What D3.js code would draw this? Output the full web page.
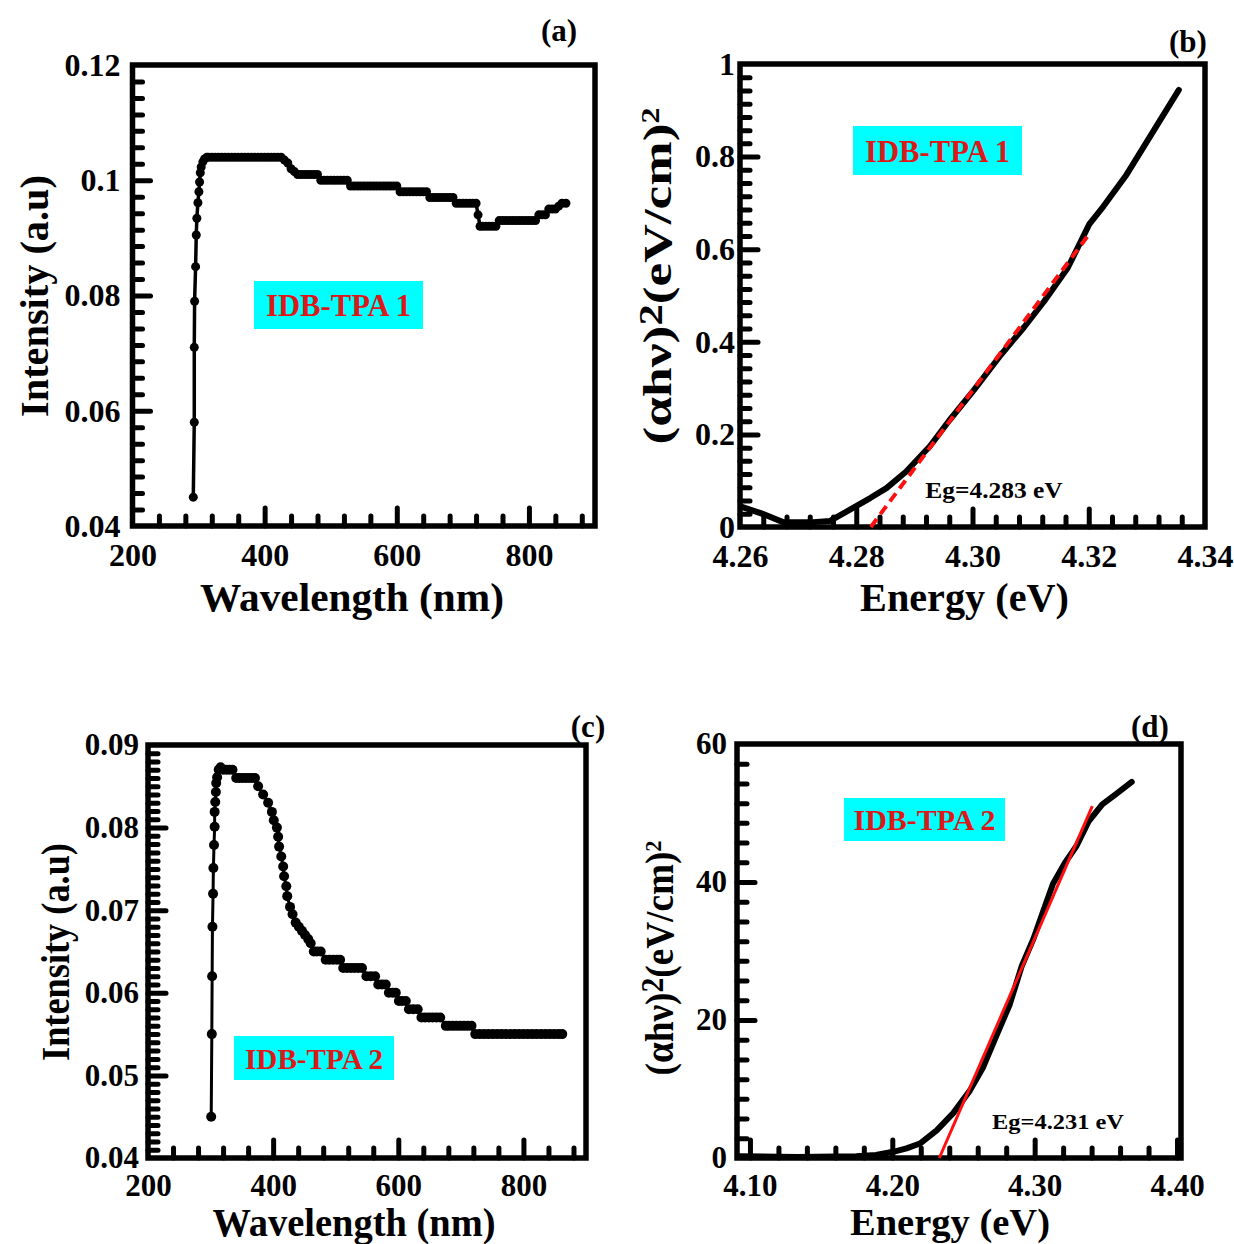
<!DOCTYPE html>
<html>
<head>
<meta charset="utf-8">
<script src="https://cdn.jsdelivr.net/npm/d3@7"></script>
<style>
  html, body { margin: 0; padding: 0; background: #fff; }
  text { font-family: "Liberation Serif", "Times New Roman", serif; font-weight: bold; }
</style>
</head>
<body>
<script>
// ---------------- DATA ----------------
// Panel (a): IDB-TPA 1 intensity vs wavelength
const wavelengthA = [292, 293.5, 293.5, 294, 295.5, 296.5, 297.4, 299, 300.5, 301.5, 302.6, 304, 306.5, 309, 312.5,
  315, 320, 325, 330, 335, 340, 345, 350, 355, 360, 365, 370, 375, 380, 385, 390, 395, 400, 405, 410, 415, 420, 425,
  430, 435, 440, 445, 450, 455, 460, 465, 470, 475, 480,
  485, 490, 495, 500, 505, 510, 515, 520, 525,
  530, 535, 540, 545, 550, 555, 560, 565, 570, 575, 580, 585, 590, 595, 600,
  605, 610, 615, 620, 625, 630, 635, 640, 645,
  650, 655, 660, 665, 670, 675, 680, 685,
  690, 695, 700, 705, 710, 715, 720,
  723, 726, 730, 735, 740, 745, 750,
  755, 760, 765, 770, 775, 780, 785, 790, 795, 800, 805, 810,
  815, 820, 825, 830, 835, 840, 845, 850, 856];
const intensityA = [0.045, 0.058, 0.071, 0.079, 0.085, 0.0905, 0.0934, 0.0961, 0.098, 0.0997, 0.1013, 0.1023, 0.1032, 0.1037, 0.104,
  0.104, 0.104, 0.104, 0.104, 0.104, 0.104, 0.104, 0.104, 0.104, 0.104, 0.104, 0.104, 0.104, 0.104, 0.104, 0.104, 0.104, 0.104, 0.104, 0.104, 0.104, 0.104, 0.104,
  0.1035, 0.103, 0.102, 0.1015, 0.101, 0.101, 0.101, 0.101, 0.101, 0.101, 0.101,
  0.100, 0.100, 0.100, 0.100, 0.100, 0.100, 0.100, 0.100, 0.100,
  0.099, 0.099, 0.099, 0.099, 0.099, 0.099, 0.099, 0.099, 0.099, 0.099, 0.099, 0.099, 0.099, 0.099, 0.099,
  0.098, 0.098, 0.098, 0.098, 0.098, 0.098, 0.098, 0.098, 0.098,
  0.097, 0.097, 0.097, 0.097, 0.097, 0.097, 0.097, 0.097,
  0.096, 0.096, 0.096, 0.096, 0.096, 0.096, 0.096,
  0.094, 0.092, 0.092, 0.092, 0.092, 0.092, 0.092,
  0.093, 0.093, 0.093, 0.093, 0.093, 0.093, 0.093, 0.093, 0.093, 0.093, 0.093, 0.093,
  0.094, 0.094, 0.094, 0.095, 0.095, 0.095, 0.0955, 0.096, 0.096];

// Panel (b): Tauc plot IDB-TPA 1
const energyB = [4.2602, 4.2640, 4.2675, 4.2720, 4.2755, 4.2790, 4.2824, 4.2852, 4.2886, 4.2927, 4.2960, 4.3002,
  4.3049, 4.3089, 4.3123, 4.3164, 4.3201, 4.3225, 4.3265, 4.3355];
const taucB = [0.044, 0.028, 0.010, 0.010, 0.013, 0.038, 0.0625, 0.084, 0.12, 0.175, 0.230, 0.295,
  0.372, 0.432, 0.487, 0.560, 0.654, 0.692, 0.761, 0.944];
const fitEnergyB = [4.2825, 4.3198];
const fitTaucB = [0, 0.628];

// Panel (c): IDB-TPA 2 intensity vs wavelength
const wavelengthC = [301, 302, 302.5, 303, 304, 304.5, 305.5, 306.5, 306.5, 307.5, 308.5, 309, 310.5, 313, 316,
  320, 325, 330, 335,
  341, 346, 351, 356, 361, 366, 371,
  376, 384, 392, 398, 401, 406, 408, 409.5, 413, 416, 417.5, 421, 422.5, 427, 431, 436, 441, 446, 451, 456, 460,
  465, 470, 476,
  484, 490, 496, 502, 507,
  512, 518, 524, 530, 536, 542,
  549, 556, 563,
  568, 574, 580,
  585, 591, 596,
  601, 606, 612,
  617, 624, 631,
  637, 643, 649, 655, 661, 667,
  676, 681, 687, 693, 699, 705, 711, 717,
  723, 730, 737, 744, 751, 758, 765, 772, 779, 786, 793, 800, 807, 814, 821, 828, 835, 842, 849, 856, 862];
const intensityC = [0.045, 0.055, 0.062, 0.068, 0.072, 0.0751, 0.0779, 0.0801, 0.0819, 0.0831, 0.0843, 0.0854, 0.0861, 0.087, 0.0873,
  0.087, 0.087, 0.087, 0.087,
  0.086, 0.086, 0.086, 0.086, 0.086, 0.086, 0.086,
  0.085, 0.084, 0.083, 0.0819, 0.0809, 0.080, 0.0789, 0.0777, 0.0765, 0.0753, 0.0741, 0.0729, 0.0717, 0.0704, 0.0695, 0.0685, 0.068, 0.0675, 0.067, 0.0665, 0.066,
  0.065, 0.065, 0.065,
  0.064, 0.064, 0.064, 0.064, 0.064,
  0.063, 0.063, 0.063, 0.063, 0.063, 0.063,
  0.062, 0.062, 0.062,
  0.061, 0.061, 0.061,
  0.060, 0.060, 0.060,
  0.059, 0.059, 0.059,
  0.058, 0.058, 0.058,
  0.057, 0.057, 0.057, 0.057, 0.057, 0.057,
  0.056, 0.056, 0.056, 0.056, 0.056, 0.056, 0.056, 0.056,
  0.055, 0.055, 0.055, 0.055, 0.055, 0.055, 0.055, 0.055, 0.055, 0.055, 0.055, 0.055, 0.055, 0.055, 0.055, 0.055, 0.055, 0.055, 0.055, 0.055, 0.055];

// Panel (d): Tauc plot IDB-TPA 2
const energyD = [4.0917, 4.1332, 4.1747, 4.1885, 4.2007, 4.2100, 4.2194, 4.2312, 4.2428, 4.2546, 4.2639, 4.2742,
  4.2825, 4.2908, 4.2991, 4.3060, 4.3129, 4.3212, 4.3295, 4.3378, 4.3475, 4.3571, 4.3682];
const taucD = [0.25, 0.15, 0.25, 0.45, 0.9, 1.4, 2.1, 4.0, 6.5, 9.8, 13.2, 18.25,
  22.25, 27.75, 31.75, 35.75, 39.75, 42.75, 45.25, 48.75, 51.25, 52.75, 54.5];
const fitEnergyD = [4.233, 4.3405];
const fitTaucD = [0, 51];

// Tick labels
const wavelengthTicks = [200, 400, 600, 800];
const wavelengthTickLabels = ["200", "400", "600", "800"];
const intensityTicksA = [0.04, 0.06, 0.08, 0.1, 0.12];
const intensityTickLabelsA = ["0.04", "0.06", "0.08", "0.1", "0.12"];
const energyTicksB = [4.26, 4.28, 4.30, 4.32, 4.34];
const energyTickLabelsB = ["4.26", "4.28", "4.30", "4.32", "4.34"];
const taucTicksB = [0, 0.2, 0.4, 0.6, 0.8, 1];
const taucTickLabelsB = ["0", "0.2", "0.4", "0.6", "0.8", "1"];
const intensityTicksC = [0.04, 0.05, 0.06, 0.07, 0.08, 0.09];
const intensityTickLabelsC = ["0.04", "0.05", "0.06", "0.07", "0.08", "0.09"];
const energyTicksD = [4.10, 4.20, 4.30, 4.40];
const energyTickLabelsD = ["4.10", "4.20", "4.30", "4.40"];
const taucTicksD = [0, 20, 40, 60];
const taucTickLabelsD = ["0", "20", "40", "60"];

// ---------------- DRAWING ----------------
const W = 1234, H = 1244;
const svg = d3.select("body").append("svg").attr("width", W).attr("height", H)
  .style("display", "block");
svg.append("rect").attr("width", W).attr("height", H).attr("fill", "#fff");

const RED_TEXT = "#dc1818";
const CYAN = "#00ffff";

function minorValues(majors, nSub, lo, hi) {
  const step = (majors[1] - majors[0]) / nSub;
  const out = [];
  const start = majors[0] - Math.ceil((majors[0] - lo) / step - 1e-9) * step;
  for (let v = start; v <= hi + 1e-9; v += step) {
    const isMajor = majors.some(m => Math.abs(m - v) < step * 1e-3);
    if (!isMajor && v > lo + step * 0.01 && v < hi - step * 0.01) out.push(v);
  }
  return out;
}

function fitText(sel, cx, cy, targetW, rot) {
  const w = sel.node().getBBox().width;
  const s = targetW / w;
  sel.attr("transform", `translate(${cx},${cy}) rotate(${rot || 0}) scale(${s},1)`);
}

function panel(p) {
  const g = svg.append("g");
  const x = d3.scaleLinear().domain(p.xDomain).range([p.left, p.right]);
  const y = d3.scaleLinear().domain(p.yDomain).range([p.bottom, p.top]);

  const xMinor = minorValues(p.xMajor, p.xSub, p.xDomain[0], p.xDomain[1]);
  const yMinor = minorValues(p.yMajor, p.ySub, p.yDomain[0], p.yDomain[1]);

  const gxm = g.append("g").attr("transform", `translate(0,${p.bottom})`)
    .call(d3.axisBottom(x).tickValues(xMinor).tickSize(-10).tickFormat(""));
  const gym = g.append("g").attr("transform", `translate(${p.left},0)`)
    .call(d3.axisLeft(y).tickValues(yMinor).tickSize(-10).tickFormat(""));

  const gx = g.append("g").attr("transform", `translate(0,${p.bottom})`)
    .call(d3.axisBottom(x).tickValues(p.xMajor).tickSize(-18).tickPadding(p.xPad)
      .tickFormat((d, i) => p.xLabels[i]));
  const gy = g.append("g").attr("transform", `translate(${p.left},0)`)
    .call(d3.axisLeft(y).tickValues(p.yMajor).tickSize(-18).tickPadding(p.yPad)
      .tickFormat((d, i) => p.yLabels[i]));

  [gxm, gym, gx, gy].forEach(a => {
    a.select(".domain").remove();
    a.selectAll(".tick line").attr("stroke", "#000").attr("stroke-width", 5).attr("stroke-linecap", "round");
    a.selectAll(".tick text").attr("fill", "#000")
      .style("font-family", '"Liberation Serif", serif').style("font-weight", "bold")
      .style("font-size", p.tickFont + "px");
  });
  gx.selectAll(".tick line").filter(d => Math.abs(x(d) - p.left) < 2 || Math.abs(x(d) - p.right) < 2).remove();
  gy.selectAll(".tick line").filter(d => Math.abs(y(d) - p.top) < 2 || Math.abs(y(d) - p.bottom) < 2).remove();

  // frame
  g.append("rect").attr("x", p.left).attr("y", p.top)
    .attr("width", p.right - p.left).attr("height", p.bottom - p.top)
    .attr("fill", "none").attr("stroke", "#000").attr("stroke-width", 5.5);

  // data
  const pts = p.xs.map((v, i) => [v, p.ys[i]]);
  const line = d3.line().x(d => x(d[0])).y(d => y(d[1]));
  g.append("path").datum(pts).attr("d", line).attr("fill", "none")
    .attr("stroke", "#000").attr("stroke-width", p.lineW)
    .attr("stroke-linejoin", "round").attr("stroke-linecap", "round");
  if (p.dotR) {
    g.append("g").selectAll("circle").data(pts).join("circle")
      .attr("cx", d => x(d[0])).attr("cy", d => y(d[1])).attr("r", p.dotR).attr("fill", "#000");
  }
  if (p.fitX) {
    const fp = p.fitX.map((v, i) => [v, p.fitY[i]]);
    g.append("path").datum(fp).attr("d", line).attr("fill", "none")
      .attr("stroke", "#ff1010").attr("stroke-width", p.fitW)
      .attr("stroke-dasharray", p.fitDash || null);
  }

  // label box
  const b = p.box;
  g.append("rect").attr("x", b[0]).attr("y", b[1]).attr("width", b[2] - b[0]).attr("height", b[3] - b[1])
    .attr("fill", CYAN);
  const lt = g.append("text").text(p.name).attr("text-anchor", "middle").attr("dy", "0.35em")
    .attr("fill", RED_TEXT).style("font-size", p.nameFont + "px");
  fitText(lt, (b[0] + b[2]) / 2, (b[1] + b[3]) / 2, p.nameW);

  if (p.eg) {
    const et = g.append("text").text(p.eg).attr("text-anchor", "middle").attr("dy", "0.35em")
      .attr("fill", "#000").style("font-size", p.egFont + "px");
    fitText(et, p.egPos[0], p.egPos[1], p.egW);
  }

  g.append("text").text(p.letter).attr("x", p.letterPos[0]).attr("y", p.letterPos[1])
    .attr("text-anchor", "middle").attr("dy", "0.35em").style("font-size", "31px");

  const xt = g.append("text").text(p.xTitle).attr("text-anchor", "middle").attr("dy", "0.35em")
    .style("font-size", p.titleFont + "px");
  fitText(xt, p.xTitlePos[0], p.xTitlePos[1], p.xTitleW);

  const yt = g.append("text").attr("text-anchor", "middle").attr("dy", "0.35em")
    .style("font-size", p.titleFont + "px");
  if (p.tauc) {
    yt.append("tspan").text("(\u03b1h\u03bd)");
    yt.append("tspan").text("2").style("font-size", (p.titleFont * 0.8) + "px").attr("dy", "-0.3em");
    yt.append("tspan").text("(eV/cm)").attr("dy", "0.24em");
    yt.append("tspan").text("2").style("font-size", (p.titleFont * 0.6) + "px").attr("dy", "-0.5em");
  } else {
    yt.text(p.yTitle);
  }
  fitText(yt, p.yTitlePos[0], p.yTitlePos[1], p.yTitleW, -90);
}

panel({
  xs: wavelengthA, ys: intensityA, xDomain: [200, 900], yDomain: [0.04, 0.12],
  left: 132.5, right: 595, top: 65, bottom: 526,
  xMajor: wavelengthTicks, xLabels: wavelengthTickLabels, xSub: 5,
  yMajor: intensityTicksA, yLabels: intensityTickLabelsA, ySub: 7,
  xPad: 17, yPad: 12, tickFont: 32,
  lineW: 3.5, dotR: 4.5,
  box: [254, 281, 423, 329], name: "IDB-TPA 1", nameFont: 32, nameW: 145,
  letter: "(a)", letterPos: [559, 30],
  xTitle: "Wavelength (nm)", xTitlePos: [352, 597], xTitleW: 304,
  yTitle: "Intensity (a.u)", yTitlePos: [34, 296], yTitleW: 242, titleFont: 41
});

panel({
  xs: energyB, ys: taucB, xDomain: [4.26, 4.34], yDomain: [0, 1],
  left: 740, right: 1205, top: 64, bottom: 527,
  xMajor: energyTicksB, xLabels: energyTickLabelsB, xSub: 5,
  yMajor: taucTicksB, yLabels: taucTickLabelsB, ySub: 7,
  xPad: 17, yPad: 5, tickFont: 32,
  lineW: 6, dotR: 0,
  fitX: fitEnergyB, fitY: fitTaucB, fitW: 4, fitDash: "10,6",
  box: [853, 126, 1022, 175], name: "IDB-TPA 1", nameFont: 32, nameW: 145,
  eg: "Eg=4.283 eV", egPos: [994, 490], egW: 138, egFont: 23,
  letter: "(b)", letterPos: [1188, 41],
  xTitle: "Energy (eV)", xTitlePos: [964.5, 597], xTitleW: 209,
  tauc: true, yTitlePos: [657, 276], yTitleW: 337, titleFont: 41
});

panel({
  xs: wavelengthC, ys: intensityC, xDomain: [200, 900], yDomain: [0.04, 0.09],
  left: 148, right: 586, top: 745, bottom: 1158,
  xMajor: wavelengthTicks, xLabels: wavelengthTickLabels, xSub: 5,
  yMajor: intensityTicksC, yLabels: intensityTickLabelsC, ySub: 10,
  xPad: 16, yPad: 9, tickFont: 31,
  lineW: 3, dotR: 5,
  box: [234, 1036, 394, 1080], name: "IDB-TPA 2", nameFont: 30, nameW: 138,
  letter: "(c)", letterPos: [588, 726],
  xTitle: "Wavelength (nm)", xTitlePos: [354, 1222], xTitleW: 283,
  yTitle: "Intensity (a.u)", yTitlePos: [55, 952], yTitleW: 218, titleFont: 39
});

panel({
  xs: energyD, ys: taucD, xDomain: [4.0909, 4.4028], yDomain: [0, 60],
  left: 737, right: 1181, top: 744, bottom: 1158,
  xMajor: energyTicksD, xLabels: energyTickLabelsD, xSub: 5,
  yMajor: taucTicksD, yLabels: taucTickLabelsD, ySub: 7,
  xPad: 16, yPad: 10, tickFont: 31,
  lineW: 6, dotR: 0,
  fitX: fitEnergyD, fitY: fitTaucD, fitW: 3, fitDash: null,
  box: [844, 798, 1005, 841], name: "IDB-TPA 2", nameFont: 30, nameW: 142,
  eg: "Eg=4.231 eV", egPos: [1058, 1122], egW: 132, egFont: 21,
  letter: "(d)", letterPos: [1150, 726],
  xTitle: "Energy (eV)", xTitlePos: [950, 1221], xTitleW: 200,
  tauc: true, yTitlePos: [659, 958], yTitleW: 235, titleFont: 39
});
</script>
</body>
</html>
